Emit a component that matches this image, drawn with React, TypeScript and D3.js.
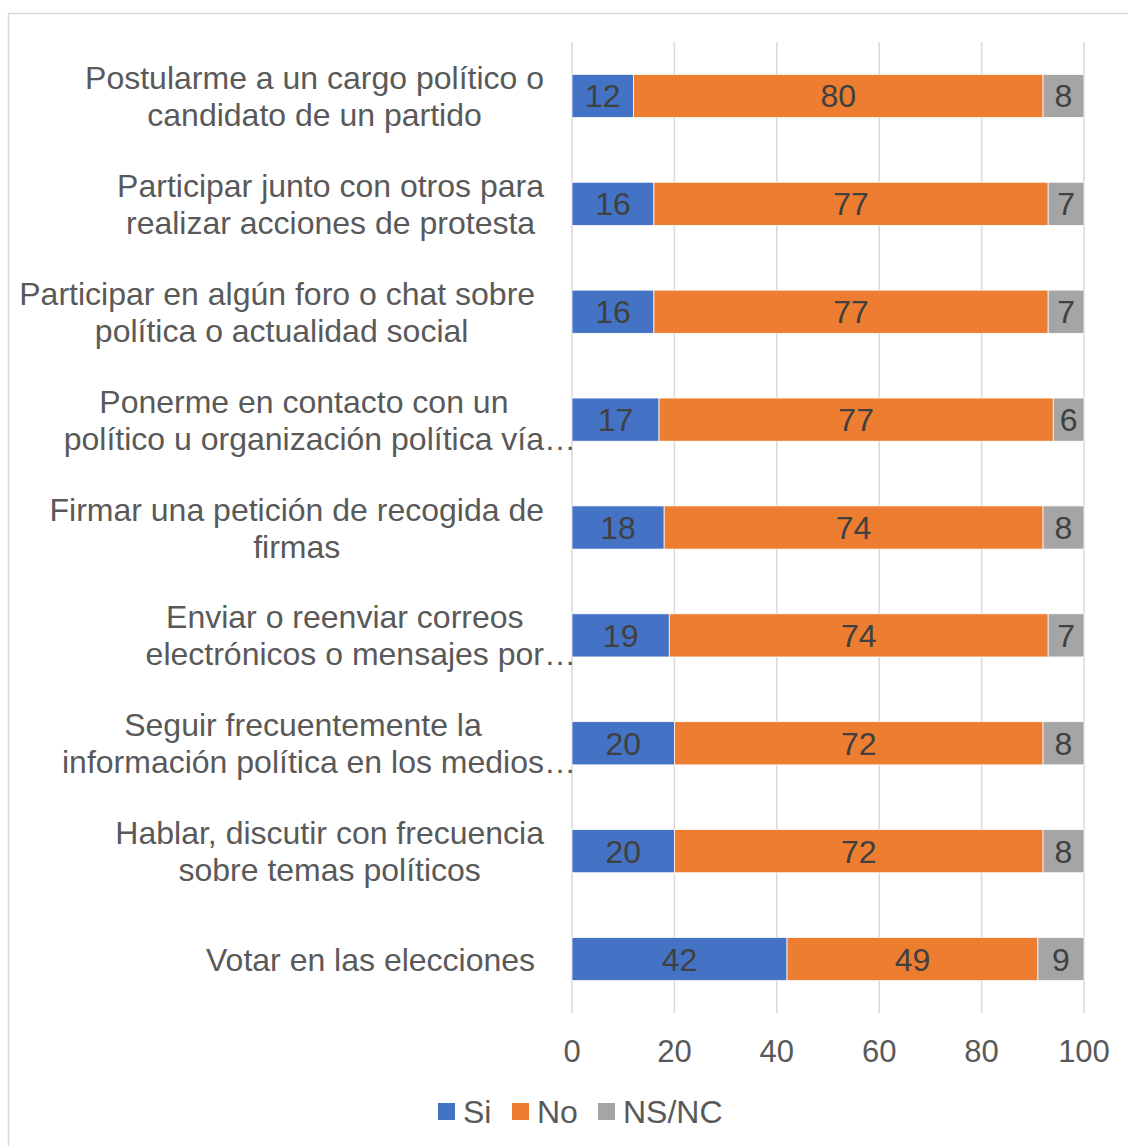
import React from "react";
import * as d3 from "d3";

const categories: string[][] = [
  ["Postularme a un cargo político o", "candidato de un partido"],
  ["Participar junto con otros para", "realizar acciones de protesta"],
  ["Participar en algún foro o chat sobre ", "política o actualidad social"],
  ["Ponerme en contacto con un", "político u organización política vía"],
  ["Firmar una petición de recogida de", "firmas"],
  ["Enviar o reenviar correos", "electrónicos o mensajes por"],
  ["Seguir frecuentemente la", "información política en los medios"],
  ["Hablar, discutir con frecuencia", "sobre temas políticos"],
  ["Votar en las elecciones "],
];
const truncated = [false, false, false, true, false, true, true, false, false];

const si = [12, 16, 16, 17, 18, 19, 20, 20, 42];
const no = [80, 77, 77, 77, 74, 74, 72, 72, 49];
const nsnc = [8, 7, 7, 6, 8, 7, 8, 8, 9];

const seriesNames = ["Si", "No", "NS/NC"];
const colors = ["#4472C4", "#ED7D31", "#A5A5A5"];
const ticks = [0, 20, 40, 60, 80, 100];

const FONT = "'Liberation Sans', Arial, sans-serif";
const FS = 31;
const CFS = 32;

let ctx: CanvasRenderingContext2D | null = null;
function measure(t: string, fs: number): number {
  if (!ctx) ctx = document.createElement("canvas").getContext("2d");
  if (!ctx) return t.length * fs * 0.5;
  ctx.font = `${fs}px 'Liberation Sans', Arial, sans-serif`;
  return ctx.measureText(t).width;
}

export default function App() {
  const W = 1128, H = 1146;
  const x = d3.scaleLinear().domain([0, 100]).range([572, 1084]);
  const y = d3
    .scaleBand<number>()
    .domain(d3.range(categories.length))
    .range([42, 1013])
    .paddingInner(0.6)
    .paddingOuter(0.3);
  const bh = y.bandwidth();
  const series = [si, no, nsnc];
  const labelRight = 544;

  const legendX = [438, 512, 598];

  return (
    <svg
      width={W}
      height={H}
      style={{ position: "absolute", left: 0, top: 0, background: "#fff" }}
      fontFamily={FONT}
    >
      <rect x={8.5} y={13.5} width={W + 10} height={H + 10} fill="#fff" stroke="#d9d9d9" strokeWidth={1.5} />
      {ticks.map((t) => (
        <line key={t} x1={x(t)} x2={x(t)} y1={42} y2={1013} stroke="#d9d9d9" strokeWidth={1.5} />
      ))}
      {categories.map((_, i) => {
        let start = 0;
        return series.map((s, k) => {
          const v = s[i];
          const x0 = x(start);
          const x1 = x(start + v);
          start += v;
          const yy = y(i)!;
          return (
            <g key={`${i}-${k}`}>
              <rect x={x0} y={yy} width={x1 - x0} height={bh} fill={colors[k]} stroke="#fff" strokeWidth={0.75} />
              <text
                x={(x0 + x1) / 2}
                y={yy + bh / 2}
                dy="0.36em"
                textAnchor="middle"
                fontSize={CFS}
                fill="#404040"
              >
                {v}
              </text>
            </g>
          );
        });
      })}
      {categories.map((lines, i) => {
        const widths = lines.map((l) => measure(l, CFS));
        const maxW = Math.max(...widths);
        const cx = labelRight - maxW / 2;
        const cy = y(i)! + bh / 2;
        const n = lines.length;
        return (
          <g key={`lab-${i}`}>
            {lines.map((l, j) => {
              const lineY = cy + (j - (n - 1) / 2) * 37;
              const txt = j === n - 1 && truncated[i] ? l + "…" : l;
              return (
                <text
                  key={j}
                  x={cx - widths[j] / 2}
                  y={lineY}
                  dy="0.36em"
                  fontSize={CFS}
                  fill="#595959"
                  style={{ whiteSpace: "pre" }}
                >
                  {txt}
                </text>
              );
            })}
          </g>
        );
      })}
      {ticks.map((t) => (
        <text key={`t${t}`} x={x(t)} y={1051} dy="0.36em" textAnchor="middle" fontSize={FS} fill="#595959">
          {t}
        </text>
      ))}
      {seriesNames.map((name, k) => (
        <g key={name}>
          <rect x={legendX[k]} y={1103} width={17} height={17} fill={colors[k]} />
          <text x={legendX[k] + 25} y={1111} dy="0.36em" fontSize={CFS} fill="#595959">
            {name}
          </text>
        </g>
      ))}
    </svg>
  );
}
